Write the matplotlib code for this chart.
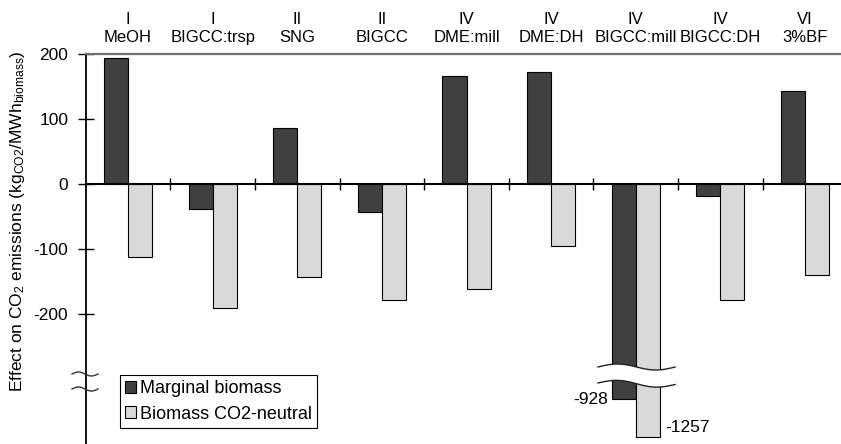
import matplotlib
matplotlib.use("Agg")
import matplotlib.pyplot as plt
import matplotlib.transforms as mtransforms
import numpy as np

plt.rcParams['font.family'] = ['Liberation Sans', 'DejaVu Sans']
plt.rcParams['mathtext.fontset'] = 'custom'
plt.rcParams['mathtext.rm'] = 'Liberation Sans'
plt.rcParams['mathtext.it'] = 'Liberation Sans:italic'
plt.rcParams['axes.unicode_minus'] = False

cases = ['I\nMeOH', 'I\nBIGCC:trsp', 'II\nSNG', 'II\nBIGCC', 'IV\nDME:mill',
         'IV\nDME:DH', 'IV\nBIGCC:mill', 'IV\nBIGCC:DH', 'VI\n3%BF']
marginal = [194, -38, 87, -42, 167, 172, -928, -18, 143]
neutral = [-112, -190, -143, -178, -161, -95, -1257, -178, -140]
yticks = [-200, -100, 0, 100, 200]

W, H = 841, 444


def fx(px):
    return px / W


def fy(py):
    return 1 - py / H


fig = plt.figure(figsize=(W / 100, H / 100), dpi=100)
# upper part: normal scale, lower part: the two big negative values
ax = fig.add_axes([fx(85.7), fy(375), 761.6 / W, (375 - 54.3) / H])
axl = fig.add_axes([fx(85.7), 0, 761.6 / W, fy(375)], sharex=ax)
axl.patch.set_visible(False)

x = np.arange(len(cases))
w = 0.284
for a in (ax, axl):
    a.bar(x - w / 2, marginal, w, color='#404040', edgecolor='black',
          linewidth=0.8, label='Marginal biomass')
    a.bar(x + w / 2, neutral, w, color='#d9d9d9', edgecolor='black',
          linewidth=0.8, label='Biomass CO2-neutral')

ax.set_xlim(-0.5, len(cases) - 0.5)
ax.set_ylim(-293.4, 200)
axl.set_ylim(-1317.6, -720.2)

ax.spines['right'].set_visible(False)
ax.spines['top'].set_color('#6e6e6e')
ax.spines['top'].set_linewidth(1.6)
ax.spines['bottom'].set_position(('data', 0))
ax.spines['bottom'].set_linewidth(1.5)
ax.spines['left'].set_linewidth(1.3)
ax.set_yticks(yticks)
ax.tick_params(axis='y', direction='inout', length=11, width=1, pad=7,
               labelsize=12.5)
ax.set_xticks(x[:-1] + 0.5)
ax.tick_params(axis='x', direction='inout', length=8, width=1,
               labelbottom=False)

for s in ('top', 'right', 'bottom'):
    axl.spines[s].set_visible(False)
axl.spines['left'].set_linewidth(1.3)
axl.tick_params(left=False, labelleft=False, bottom=False, labelbottom=False)

for i, name in enumerate(cases):
    ax.annotate(name, xy=(i, 1), xycoords=('data', 'axes fraction'),
                xytext=(0, 7), textcoords='offset points', ha='center',
                va='bottom', fontsize=12, annotation_clip=False)

fig.text(fx(18), fy(221),
         'Effect on CO$_2$ emissions (kg$_{\\mathrm{CO2}}$/MWh$_{\\mathrm{biomass}}$)',
         rotation=90, ha='center', va='center', fontsize=12.5)

axl.annotate(str(marginal[6]), xy=(6 - w, marginal[6]), xytext=(-3, 0),
             textcoords='offset points', ha='right', va='center', fontsize=12.5)
axl.annotate(str(neutral[6]), xy=(6 + w, neutral[6]), xytext=(4, 7),
             textcoords='offset points', ha='left', va='center', fontsize=12.5)

# wavy break across the BIGCC:mill bars
bt = mtransforms.blended_transform_factory(ax.transData, fig.transFigure)
t = np.linspace(0, 1, 80)
bx = 6 - 0.445 + 0.91 * t
top = fy(367 - 3 * np.sin(2 * np.pi * t))
bot = fy(383 - 3 * np.sin(2 * np.pi * t) + 1.5 * t)
fig.add_artist(plt.Polygon(np.column_stack([np.r_[bx, bx[::-1]], np.r_[top, bot[::-1]]]),
                           closed=True, facecolor='white', edgecolor='none',
                           transform=bt, zorder=5))
for yy in (top, bot):
    fig.add_artist(plt.Line2D(bx, yy, color='#222222', lw=1, transform=bt, zorder=6))

# break marks on the y axis
sx = np.linspace(fx(72), fx(98), 40)
ts = np.linspace(0, 1, 40)
for y0 in (374, 389):
    fig.add_artist(plt.Line2D(sx, fy(y0 - 2 * np.sin(2 * np.pi * ts)), color='#333333',
                              lw=1, transform=fig.transFigure, zorder=6))

handles, labels = ax.get_legend_handles_labels()
leg = fig.legend(handles, labels, loc='upper left', bbox_to_anchor=(fx(120), fy(375)),
                 frameon=True, fancybox=False, edgecolor='black', framealpha=1,
                 fontsize=13, handlelength=0.6, handleheight=0.6, handletextpad=0.2,
                 labelspacing=0.45, borderpad=0.3, borderaxespad=0)
leg.get_frame().set_linewidth(0.8)

fig.savefig('out.png', dpi=100)
